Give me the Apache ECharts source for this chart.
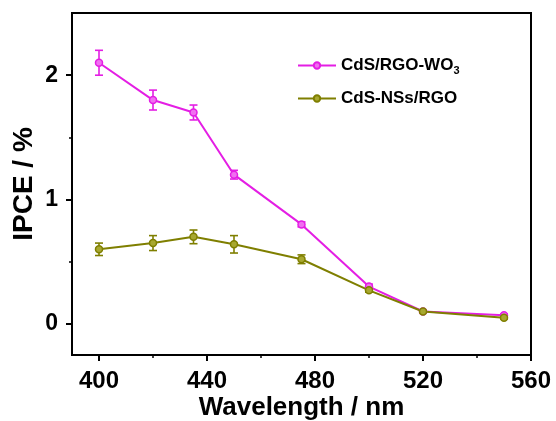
<!DOCTYPE html>
<html>
<head>
<meta charset="utf-8">
<script src="https://cdn.jsdelivr.net/npm/echarts@6/dist/echarts.min.js"></script>
<style>
  html, body { margin: 0; padding: 0; background: #fff; }
  #chart { width: 556px; height: 421px; }
</style>
</head>
<body>
<div id="chart"></div>
<script>
// Incident wavelengths (nm)
const wavelengths = [400, 420, 435, 450, 475, 500, 520, 550];

// IPCE (%) and error bar half-widths
const wo3Values = [2.10, 1.80, 1.70, 1.20, 0.80, 0.30, 0.10, 0.07];
const wo3Errors = [0.10, 0.08, 0.06, 0.035, 0.02, 0.02, 0.01, 0.01];
const nssValues = [0.60, 0.65, 0.70, 0.64, 0.52, 0.27, 0.10, 0.05];
const nssErrors = [0.05, 0.06, 0.055, 0.07, 0.035, 0.015, 0.01, 0.01];

// Axis ticks
const xMajorTicks = [400, 440, 480, 520, 560];
const xMinorTicks = [420, 460, 500, 540];
const yMajorTicks = [0, 1, 2];
const yMinorTicks = [0.5, 1.5];

const seriesNames = ['CdS/RGO-WO3', 'CdS-NSs/RGO'];
const colors = ['#E41EE4', '#7F7F00'];
const fills = ['#F070F0', '#A8A830'];

const FONT = '"Liberation Sans", Arial, sans-serif';

function pairs(xs, ys) { return xs.map((x, i) => [x, ys[i]]); }
function errRows(xs, ys, es) { return xs.map((x, i) => [x, ys[i] - es[i], ys[i] + es[i]]); }

function errorBarSeries(name, rows, color) {
  return {
    name: name,
    type: 'custom',
    xAxisIndex: 0,
    yAxisIndex: 0,
    data: rows,
    z: 3,
    silent: true,
    renderItem: function (params, api) {
      const x = api.value(0);
      const lo = api.coord([x, api.value(1)]);
      const hi = api.coord([x, api.value(2)]);
      const cap = 4;
      const style = { stroke: color, lineWidth: 1.6 };
      return {
        type: 'group',
        children: [
          { type: 'line', shape: { x1: lo[0], y1: lo[1], x2: hi[0], y2: hi[1] }, style: style },
          { type: 'line', shape: { x1: lo[0] - cap, y1: lo[1], x2: lo[0] + cap, y2: lo[1] }, style: style },
          { type: 'line', shape: { x1: hi[0] - cap, y1: hi[1], x2: hi[0] + cap, y2: hi[1] }, style: style }
        ]
      };
    }
  };
}

function lineSeries(name, data, color, fill) {
  return {
    name: name,
    type: 'line',
    data: data,
    symbol: 'circle',
    symbolSize: 7,
    z: 4,
    lineStyle: { color: color, width: 2 },
    itemStyle: { color: fill, borderColor: color, borderWidth: 1.5 }
  };
}

const baseX = {
  type: 'value',
  min: 390,
  max: 560,
  position: 'bottom',
  splitLine: { show: false },
  axisLine: { show: true, onZero: false, lineStyle: { color: '#000', width: 2 } }
};
const baseY = {
  type: 'value',
  min: -0.25,
  max: 2.5,
  position: 'left',
  splitLine: { show: false },
  axisLine: { show: true, onZero: false, lineStyle: { color: '#000', width: 2 } }
};

const chart = echarts.init(document.getElementById('chart'), null, { renderer: 'canvas' });

chart.setOption({
  animation: false,
  backgroundColor: '#fff',
  color: colors,
  grid: {
    left: 72, right: 25, top: 13, bottom: 66,
    outerBoundsMode: 'none',
    containLabel: false,
    show: true, borderColor: '#000', borderWidth: 2, backgroundColor: 'transparent'
  },
  legend: {
    data: seriesNames,
    orient: 'vertical',
    left: 292,
    top: 52,
    itemWidth: 38,
    itemHeight: 8,
    itemGap: 14,
    textStyle: {
      fontFamily: FONT, fontWeight: 'bold', fontSize: 17, color: '#000',
      rich: {
        b: { fontFamily: FONT, fontWeight: 'bold', fontSize: 17, color: '#000' },
        sub: { fontFamily: FONT, fontWeight: 'bold', fontSize: 11, color: '#000', verticalAlign: 'bottom', padding: [10, 0, 0, 0] }
      }
    },
    formatter: function (name) {
      if (name === 'CdS/RGO-WO3') return '{b|CdS/RGO-WO}{sub|3}';
      return '{b|' + name + '}';
    }
  },
  xAxis: [
    Object.assign({}, baseX, {
      name: 'Wavelength / nm',
      nameLocation: 'middle',
      nameGap: 40,
      nameMoveOverlap: false,
      nameTextStyle: { fontFamily: FONT, fontWeight: 'bold', fontSize: 26, color: '#000' },
      axisTick: { show: true, inside: false, length: 6, customValues: xMajorTicks, lineStyle: { color: '#000', width: 2 } },
      axisLabel: { show: true, customValues: xMajorTicks, margin: 14, fontFamily: FONT, fontWeight: 'bold', fontSize: 24, color: '#000' }
    }),
    Object.assign({}, baseX, {
      axisLine: { show: false, onZero: false },
      axisTick: { show: true, inside: false, length: 3, customValues: xMinorTicks, lineStyle: { color: '#000', width: 1.5 } },
      axisLabel: { show: false }
    })
  ],
  yAxis: [
    Object.assign({}, baseY, {
      name: 'IPCE / %',
      nameLocation: 'middle',
      nameGap: 34,
      nameMoveOverlap: false,
      nameRotate: 90,
      nameTextStyle: { fontFamily: FONT, fontWeight: 'bold', fontSize: 28, color: '#000' },
      axisTick: { show: true, inside: false, length: 6, customValues: yMajorTicks, lineStyle: { color: '#000', width: 2 } },
      axisLabel: { show: true, customValues: yMajorTicks, margin: 14, fontFamily: FONT, fontWeight: 'bold', fontSize: 23, color: '#000' }
    }),
    Object.assign({}, baseY, {
      axisLine: { show: false, onZero: false },
      axisTick: { show: true, inside: false, length: 3, customValues: yMinorTicks, lineStyle: { color: '#000', width: 1.5 } },
      axisLabel: { show: false }
    })
  ],
  series: [
    lineSeries(seriesNames[0], pairs(wavelengths, wo3Values), colors[0], fills[0]),
    lineSeries(seriesNames[1], pairs(wavelengths, nssValues), colors[1], fills[1]),
    errorBarSeries(seriesNames[0], errRows(wavelengths, wo3Values, wo3Errors), colors[0]),
    errorBarSeries(seriesNames[1], errRows(wavelengths, nssValues, nssErrors), colors[1])
  ]
});
</script>
</body>
</html>
